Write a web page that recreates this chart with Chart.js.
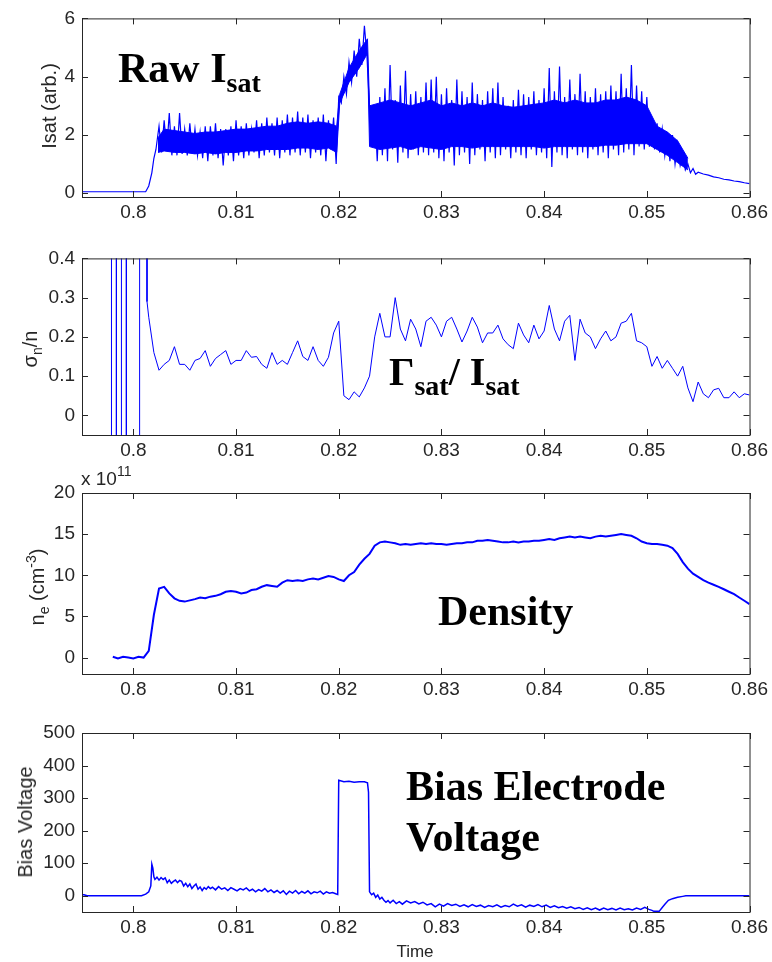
<!DOCTYPE html>
<html>
<head>
<meta charset="utf-8">
<script src="https://cdn.jsdelivr.net/npm/chart.js@4.4.1/dist/chart.umd.min.js"></script>
<style>
  body { margin: 0; background: #fff; }
  #page { position: relative; width: 772px; height: 962px; overflow: hidden; font-family: "Liberation Sans", Arial, sans-serif; color: #262626; }
  canvas { position: absolute; left: 0; }
  .ylab { position: absolute; font-size: 20px; line-height: 20px; white-space: nowrap; transform: translate(-50%, -50%) rotate(-90deg); }
  .ylab .sb { font-size: 14px; position: relative; top: 5px; }
  .ylab .sp { font-size: 14px; position: relative; top: -8px; }
  .note { position: absolute; font-family: "Liberation Serif", "Times New Roman", serif; font-weight: bold; font-size: 42px; line-height: 42px; color: #000; white-space: nowrap; }
  .note .sub { font-size: 28px; position: relative; top: 10px; }
</style>
</head>
<body>
<div id="page">
  <canvas id="c1" width="772" height="227" style="top:0px"></canvas>
  <canvas id="c2" width="772" height="225" style="top:240px"></canvas>
  <canvas id="c3" width="772" height="234" style="top:470px"></canvas>
  <canvas id="c4" width="772" height="252" style="top:710px"></canvas>

  <div class="ylab" style="left:49px; top:106px">Isat (arb.)</div>
  <div class="ylab" style="left:31px; top:349px">σ<span class="sb">n</span>/n</div>
  <div class="ylab" style="left:38px; top:587px">n<span class="sb">e</span> (cm<span class="sp">-3</span>)</div>
  <div class="ylab" style="left:25px; top:822px">Bias Voltage</div>

  <div style="position:absolute; left:81px; top:469px; font-size:19px; line-height:19px; white-space:nowrap">x 10<span style="font-size:14px; position:relative; top:-9px">11</span></div>
  <div style="position:absolute; left:415px; top:943px; font-size:17px; line-height:17px; transform:translateX(-50%)">Time</div>

  <div class="note" style="left:118px; top:47px">Raw I<span class="sub">sat</span></div>
  <div class="note" style="left:389px; top:352px; font-size:40px; line-height:40px">Γ<span class="sub">sat</span>/ I<span class="sub">sat</span></div>
  <div class="note" style="left:438px; top:590px">Density</div>
  <div class="note" style="left:406px; top:761px; line-height:51px">Bias Electrode<br>Voltage</div>
</div>

<script>
// shared time axis
const xTicks = [0.8, 0.81, 0.82, 0.83, 0.84, 0.85, 0.86];
const xTickLabels = ['0.8', '0.81', '0.82', '0.83', '0.84', '0.85', '0.86'];

// panel 1: raw Isat
// solid core of the noisy band (top / bottom edge)
const isatCoreTime = [
  0.8024, 0.803, 0.804, 0.805, 0.806, 0.807, 0.808, 0.809, 0.81, 0.811,
  0.812, 0.813, 0.814, 0.815, 0.816, 0.817, 0.818, 0.819, 0.8198, 0.8201,
  0.821, 0.822, 0.8228, 0.823, 0.824, 0.825, 0.826, 0.827, 0.828, 0.829,
  0.83, 0.831, 0.832, 0.833, 0.834, 0.835, 0.836, 0.837, 0.838, 0.839,
  0.84, 0.841, 0.842, 0.843, 0.844, 0.845, 0.846, 0.847, 0.848, 0.849,
  0.85, 0.851, 0.852, 0.853, 0.854
];
const isatCoreTop = [
  1.9, 2.2, 2.15, 2.1, 2.05, 2.1, 2.1, 2.15, 2.2, 2.2,
  2.25, 2.3, 2.3, 2.4, 2.45, 2.4, 2.45, 2.4, 2.3, 3.4,
  4.3, 4.9, 5.3, 3.0, 3.1, 3.2, 3.1, 3.0, 3.1, 3.2,
  3.0, 3.1, 3.0, 3.1, 3.0, 3.1, 3.0, 2.95, 3.0, 3.05,
  3.1, 3.2, 3.1, 3.2, 3.1, 3.1, 3.2, 3.2, 3.3, 3.2,
  3.0, 2.3, 2.1, 1.8, 1.2
];
const isatCoreBottom = [
  1.4, 1.45, 1.4, 1.4, 1.35, 1.4, 1.35, 1.4, 1.4, 1.45,
  1.45, 1.5, 1.5, 1.5, 1.55, 1.55, 1.5, 1.55, 1.4, 3.1,
  3.8, 4.3, 4.8, 1.6, 1.5, 1.55, 1.6, 1.5, 1.6, 1.55,
  1.5, 1.6, 1.6, 1.55, 1.6, 1.6, 1.6, 1.6, 1.6, 1.6,
  1.55, 1.6, 1.6, 1.6, 1.6, 1.6, 1.65, 1.65, 1.7, 1.7,
  1.7, 1.5, 1.3, 1.05, 0.8
];
// the trace itself: quiet start, read-off high / low excursions, decay
const isatHeadTime = [0.795, 0.8012, 0.8015, 0.8018, 0.802, 0.8022];
const isatHeadValue = [0.05, 0.05, 0.25, 0.7, 1.2, 1.5];
const isatNoiseStart = 0.8025;
const isatNoiseStep = 0.0005;
const isatHigh = [
  2.3, 2.5, 2.75, 2.3, 2.75, 2.2, 2.4, 2.2, 2.1, 2.3,
  2.3, 2.4, 2.2, 2.2, 2.3, 2.5, 2.3, 2.4, 2.2, 2.5,
  2.4, 2.6, 2.4, 2.6, 2.5, 2.7, 2.6, 2.8, 2.6, 2.7,
  2.5, 2.6, 2.7, 2.5, 2.6,
  3.3, 4.0, 4.5, 4.9, 5.3, 5.75,
  2.9, 3.0, 3.3, 3.6, 4.4, 3.2, 3.7, 4.2, 3.4, 3.5,
  3.3, 3.8, 3.9, 4.0, 3.4, 3.6, 3.2, 3.9, 3.5, 3.3,
  3.8, 3.4, 3.2, 3.5, 3.6, 3.8, 3.3, 3.0, 3.2, 3.55,
  3.4, 3.3, 3.5, 3.2, 3.6, 4.3, 3.5, 4.35, 3.3, 3.9,
  3.4, 4.1, 3.5, 3.3, 3.6, 3.4, 3.5, 3.7, 3.5, 4.1,
  3.6, 4.4, 3.7, 3.5, 3.3,
  2.5, 2.4, 2.2, 2.1, 2.0, 1.7, 1.3, 1.0, 0.85
];
const isatLow = [
  1.4, 1.5, 1.3, 1.3, 1.35, 1.3, 1.4, 1.3, 1.2, 1.1,
  1.3, 1.2, 0.95, 1.3, 1.1, 1.3, 1.2, 1.3, 1.4, 1.2,
  1.3, 1.4, 1.3, 1.2, 1.4, 1.3, 1.4, 1.3, 1.4, 1.2,
  1.4, 1.3, 1.1, 1.5, 1.0,
  3.1, 3.4, 3.8, 4.0, 4.4, 4.7,
  1.8, 1.1, 1.3, 1.1, 1.5, 1.05, 1.4, 1.2, 1.5, 1.3,
  1.4, 1.3, 1.4, 1.2, 1.1, 1.4, 0.95, 1.3, 1.4, 1.0,
  1.3, 1.5, 1.1, 1.4, 1.2, 1.3, 1.5, 1.2, 1.4, 1.3,
  1.2, 1.5, 1.3, 1.4, 1.2, 0.9, 1.4, 1.3, 1.2, 1.5,
  1.3, 1.4, 1.2, 1.5, 1.3, 1.4, 1.2, 1.5, 1.3, 1.4,
  1.5, 1.3, 1.6, 1.5, 1.6,
  1.5, 1.4, 1.3, 1.1, 1.0, 0.95, 0.8, 0.7, 0.65
];
const isatTailTime = [0.855, 0.8555, 0.856, 0.8565, 0.857, 0.8575, 0.858, 0.8585, 0.859, 0.8595, 0.86];
const isatTailValue = [0.72, 0.66, 0.62, 0.56, 0.53, 0.48, 0.46, 0.42, 0.4, 0.36, 0.33];
const isatTicks = [0, 2, 4, 6];
const isatTickLabels = ['0', '2', '4', '6'];

// panel 2: sigma_n / n
const sigmaSpikeTime = [0.79787, 0.79787, 0.79835, 0.79835, 0.79884, 0.79884, 0.79932, 0.79932, 0.80061, 0.80061, 0.80133, 0.80133];
const sigmaSpikeValue = [-1, 1, 1, -1, -1, 1, 1, -1, -1, 1, 1, 0.29];
const sigmaStart = 0.8015;
const sigmaStep = 0.0005;
const sigmaValue = [
  0.25, 0.16, 0.115, 0.13, 0.14, 0.175, 0.13, 0.13, 0.115, 0.14,
  0.145, 0.165, 0.125, 0.145, 0.155, 0.165, 0.13, 0.14, 0.14, 0.165,
  0.148, 0.15, 0.13, 0.12, 0.16, 0.13, 0.14, 0.13, 0.16, 0.19,
  0.15, 0.14, 0.175, 0.14, 0.125, 0.148, 0.21, 0.24, 0.05, 0.04,
  0.06, 0.047, 0.07, 0.1, 0.2, 0.26, 0.2, 0.2, 0.3, 0.22,
  0.19, 0.245, 0.22, 0.175, 0.24, 0.25, 0.23, 0.2, 0.24, 0.25,
  0.22, 0.187, 0.215, 0.25, 0.225, 0.185, 0.21, 0.21, 0.23, 0.195,
  0.18, 0.17, 0.235, 0.205, 0.185, 0.23, 0.195, 0.215, 0.28, 0.22,
  0.19, 0.24, 0.255, 0.14, 0.245, 0.21, 0.2, 0.17, 0.195, 0.215,
  0.19, 0.2, 0.235, 0.24, 0.26, 0.19, 0.185, 0.175, 0.125, 0.15,
  0.12, 0.14, 0.12, 0.1, 0.125, 0.07, 0.035, 0.085, 0.055, 0.045,
  0.065, 0.069, 0.045, 0.045, 0.06, 0.045, 0.055, 0.052
];
const sigmaTicks = [0, 0.1, 0.2, 0.3, 0.4];
const sigmaTickLabels = ['0', '0.1', '0.2', '0.3', '0.4'];

// panel 3: density, units of 1e11 cm^-3
const densStart = 0.798;
const densStep = 0.0005;
const densValue = [
  0.1, -0.1, 0.1, 0, -0.1, 0.1, 0, 0.8, 5.2, 8.4,
  8.6, 7.8, 7.2, 6.9, 6.8, 6.95, 7.1, 7.3, 7.2, 7.4,
  7.5, 7.7, 8.0, 8.1, 8.0, 7.8, 7.9, 8.2, 8.3, 8.6,
  8.8, 8.7, 8.6, 9.1, 9.4, 9.3, 9.4, 9.3, 9.5, 9.6,
  9.5, 9.7, 9.9, 9.8, 9.5, 9.3, 10.0, 10.4, 11.3, 12.0,
  12.6, 13.6, 14.0, 14.1, 14.0, 13.9, 13.7, 13.8, 13.7, 13.8,
  13.9, 13.8, 13.9, 13.8, 13.8, 13.7, 13.8, 13.9, 13.9, 14.0,
  14.0, 14.2, 14.2, 14.3, 14.2, 14.1, 14.0, 14.0, 14.1, 14.0,
  14.1, 14.1, 14.2, 14.2, 14.3, 14.4, 14.3, 14.5, 14.6, 14.7,
  14.6, 14.7, 14.6, 14.5, 14.7, 14.8, 14.7, 14.8, 14.9, 15.0,
  14.9, 14.8, 14.5, 14.1, 13.9, 13.8, 13.8, 13.7, 13.6, 13.3,
  12.6, 11.6, 10.8, 10.2, 9.8, 9.4, 9.1, 8.85, 8.6, 8.3,
  8.0, 7.7, 7.3, 6.9, 6.5
];
const densTicks = [0, 5, 10, 15, 20];
const densTickLabels = ['0', '5', '10', '15', '20'];

// panel 4: bias electrode voltage
const biasTime = [
  0.795, 0.7952, 0.7955, 0.8008, 0.8012, 0.8015, 0.8017, 0.8018, 0.8019, 0.802,
  0.8021, 0.8023, 0.8025, 0.8027, 0.8029, 0.8031, 0.8033, 0.8035, 0.8037, 0.8039,
  0.8041, 0.8043, 0.8045, 0.8047, 0.8049, 0.8051, 0.8053, 0.8055, 0.8057, 0.8059,
  0.8061, 0.8063, 0.8065, 0.8067, 0.8069, 0.8071, 0.8073, 0.8075, 0.8077, 0.808,
  0.8083, 0.8086, 0.8089, 0.8092, 0.8095, 0.8098, 0.8101, 0.8104, 0.8107, 0.811,
  0.8113, 0.8116, 0.8119, 0.8122, 0.8125, 0.8128, 0.8131, 0.8134, 0.8137, 0.814,
  0.8143, 0.8146, 0.8149, 0.8152, 0.8155, 0.8158, 0.8161, 0.8164, 0.8167, 0.817,
  0.8173, 0.8176, 0.8179, 0.8182, 0.8185, 0.8188, 0.8191, 0.8194, 0.8197, 0.8199,
  0.82, 0.8205, 0.821, 0.8215, 0.822, 0.8225, 0.8228, 0.8229, 0.823, 0.8232,
  0.8234, 0.8236, 0.8238, 0.824, 0.8242, 0.8244, 0.8246, 0.8248, 0.825, 0.8253,
  0.8256, 0.8259, 0.8262, 0.8266, 0.827, 0.8274, 0.8278, 0.8282, 0.8286, 0.829,
  0.8294, 0.8298, 0.8302, 0.8306, 0.831, 0.8314, 0.8318, 0.8322, 0.8326, 0.833,
  0.8334, 0.8338, 0.8342, 0.8346, 0.835, 0.8354, 0.8358, 0.8362, 0.8366, 0.837,
  0.8374, 0.8378, 0.8382, 0.8386, 0.839, 0.8394, 0.8398, 0.8402, 0.8406, 0.841,
  0.8414, 0.8418, 0.8422, 0.8426, 0.843, 0.8434, 0.8438, 0.8442, 0.8446, 0.845,
  0.8454, 0.8458, 0.8462, 0.8466, 0.847, 0.8474, 0.8478, 0.8482, 0.8486, 0.849,
  0.8494, 0.8498, 0.8502, 0.8505, 0.8507, 0.8512, 0.8515, 0.8518, 0.8521, 0.8525,
  0.853, 0.8535, 0.8538, 0.86
];
const biasVolt = [
  3, 3, 0, 0, 5, 12, 30, 97, 85, 58,
  50, 57, 48, 56, 50, 55, 40, 48, 38, 44,
  48, 40, 47, 44, 30, 38, 28, 36, 22, 30,
  36, 20, 27, 16, 25, 20, 28, 22, 26, 18,
  28, 20, 24, 16, 25, 20, 15, 22, 18, 24,
  15, 20, 12, 19, 14, 22, 12, 18, 10, 16,
  8, 15, 4, 14, 8, 16, 6, 13, 8, 15,
  6, 12, 9, 14, 5, 12, 8, 10, 6, 4,
  355, 350, 352, 349, 350, 350, 347, 318, 12, 3,
  8, -5, 2, -10, -5, -14, -20, -15, -22, -14,
  -24, -18, -26, -16, -22, -18, -25, -20, -28, -24,
  -34, -26, -32, -24, -30, -26, -33, -28, -34, -27,
  -33, -29, -36, -30, -34, -28, -35, -30, -34, -26,
  -32, -28, -35, -29, -33, -27, -34, -29, -36, -31,
  -37, -33, -38, -34, -40, -36, -42, -37, -43, -38,
  -44, -38, -43, -39, -44, -38, -43, -40, -44, -38,
  -42, -36, -42, -45, -48, -48, -36, -25, -14, -9,
  -5, -2, 0, 0
];
const biasTicks = [0, 100, 200, 300, 400, 500];
const biasTickLabels = ['0', '100', '200', '300', '400', '500'];

function pairs(ts, vs) {
  return ts.map((t, i) => ({ x: t, y: vs[i] }));
}

function grid(start, step, vs) {
  return vs.map((v, i) => ({ x: start + i * step, y: v }));
}

// alternate between the read high and low excursions of the noisy trace
function zigzag(start, step, hi, lo) {
  const pts = [];
  hi.forEach((h, i) => {
    const t = start + i * step;
    pts.push({ x: t, y: h }, { x: t + step / 2, y: lo[i] });
  });
  return pts;
}

function trace(points, width) {
  return { data: points, borderColor: '#0000ff', borderWidth: width, pointRadius: 0, fill: false, tension: 0 };
}

// matlab style box with inward ticks on all four sides
const frame = {
  id: 'frame',
  afterDraw(chart) {
    const { ctx, chartArea: a, scales: { x, y } } = chart;
    ctx.save();
    ctx.strokeStyle = '#262626';
    ctx.lineWidth = 1;
    ctx.strokeRect(a.left + 0.5, a.top + 0.5, a.right - a.left, a.bottom - a.top);
    ctx.beginPath();
    x.ticks.forEach((t) => {
      const px = Math.round(x.getPixelForValue(t.value)) + 0.5;
      ctx.moveTo(px, a.bottom); ctx.lineTo(px, a.bottom - 6);
      ctx.moveTo(px, a.top); ctx.lineTo(px, a.top + 6);
    });
    y.ticks.forEach((t) => {
      const py = Math.round(y.getPixelForValue(t.value)) + 0.5;
      ctx.moveTo(a.left, py); ctx.lineTo(a.left + 6, py);
      ctx.moveTo(a.right, py); ctx.lineTo(a.right - 6, py);
    });
    ctx.stroke();
    ctx.restore();
  }
};

const tickFont = { family: '"Liberation Sans", Arial, sans-serif', size: 19 };

function panel(id, datasets, padTop, xAxisHeight, yMin, yMax, yTicks, yLabels) {
  new Chart(document.getElementById(id), {
    type: 'line',
    data: { datasets },
    options: {
      responsive: false,
      animation: false,
      layout: { padding: { top: padTop, right: 22, bottom: 0, left: 0 } },
      plugins: { legend: { display: false }, tooltip: { enabled: false } },
      scales: {
        x: {
          type: 'linear',
          min: 0.795,
          max: 0.86,
          grid: { display: false, drawTicks: false },
          border: { display: false },
          afterBuildTicks: (s) => { s.ticks = xTicks.map((v) => ({ value: v })); },
          afterFit: (s) => { s.height = xAxisHeight; },
          ticks: {
            autoSkip: false, maxRotation: 0, minRotation: 0, padding: 4,
            color: '#262626', font: tickFont,
            callback: (v, i) => xTickLabels[i],
          },
        },
        y: {
          type: 'linear',
          min: yMin,
          max: yMax,
          grid: { display: false, drawTicks: false },
          border: { display: false },
          afterBuildTicks: (s) => { s.ticks = yTicks.map((v) => ({ value: v })); },
          afterFit: (s) => { s.width = 82; },
          ticks: {
            autoSkip: false, padding: 7,
            color: '#262626', font: tickFont,
            callback: (v, i) => yLabels[i],
          },
        },
      },
    },
    plugins: [frame],
  });
}

const isatPoints = pairs(isatHeadTime, isatHeadValue)
  .concat(zigzag(isatNoiseStart, isatNoiseStep, isatHigh, isatLow))
  .concat(pairs(isatTailTime, isatTailValue));
const isatSets = [
  { data: pairs(isatCoreTime, isatCoreTop), borderColor: '#0000ff', borderWidth: 1, backgroundColor: '#0000ff', pointRadius: 0, fill: '+1', tension: 0 },
  { data: pairs(isatCoreTime, isatCoreBottom), borderColor: '#0000ff', borderWidth: 1, pointRadius: 0, fill: false, tension: 0 },
  trace(isatPoints, 1.2),
];
const sigmaPoints = pairs(sigmaSpikeTime, sigmaSpikeValue).concat(grid(sigmaStart, sigmaStep, sigmaValue));

panel('c1', isatSets, 16, 30, -0.13, 6, isatTicks, isatTickLabels);
panel('c2', [trace(sigmaPoints, 1)], 16, 30, -0.05, 0.4, sigmaTicks, sigmaTickLabels);
panel('c3', [trace(grid(densStart, densStep, densValue), 2)], 23, 30, -2, 20, densTicks, densTickLabels);
panel('c4', [trace(pairs(biasTime, biasVolt), 1.5)], 23, 50, -50, 500, biasTicks, biasTickLabels);
</script>
</body>
</html>
